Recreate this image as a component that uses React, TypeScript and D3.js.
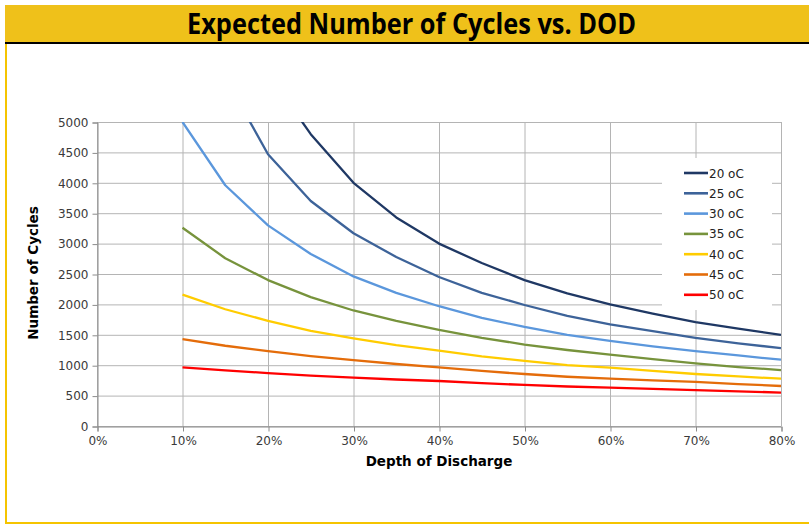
import React, { useEffect, useRef } from 'react';
import * as d3 from 'd3';

// depth of discharge (%) for every sample point
const dod = [10, 15, 20, 25, 30, 35, 40, 45, 50, 55, 60, 65, 70, 75, 80];

// cycles per temperature, null where the curve has no point
const cycles20 = [null, null, 5800, 4800, 4000, 3430, 3000, 2680, 2400, 2180, 2000, 1850, 1710, 1600, 1500];
const cycles25 = [null, 5730, 4470, 3700, 3170, 2780, 2450, 2190, 1990, 1810, 1670, 1560, 1450, 1360, 1280];
const cycles30 = [5000, 3960, 3300, 2830, 2460, 2190, 1970, 1780, 1630, 1500, 1400, 1310, 1230, 1160, 1090];
const cycles35 = [3260, 2760, 2400, 2120, 1900, 1730, 1580, 1450, 1340, 1250, 1175, 1100, 1030, 970, 920];
const cycles40 = [2160, 1920, 1730, 1565, 1440, 1330, 1240, 1145, 1070, 1000, 960, 905, 855, 815, 778];
const cycles45 = [1430, 1320, 1230, 1150, 1085, 1020, 965, 905, 855, 810, 780, 750, 725, 690, 658];
const cycles50 = [965, 915, 870, 830, 795, 765, 740, 705, 675, 650, 630, 610, 590, 570, 550];

const seriesNames = ['20 oC', '25 oC', '30 oC', '35 oC', '40 oC', '45 oC', '50 oC'];
const seriesColors = ['#1f3864', '#3d6399', '#5b97dc', '#77933c', '#ffcc00', '#e46c0a', '#ff0000'];
const seriesValues = [cycles20, cycles25, cycles30, cycles35, cycles40, cycles45, cycles50];

const xTicks = [0, 10, 20, 30, 40, 50, 60, 70, 80];
const yTicks = [0, 500, 1000, 1500, 2000, 2500, 3000, 3500, 4000, 4500, 5000];

const W = 809;
const H = 525;
const plot = { left: 97, right: 781, top: 122, bottom: 426 };
const axisFont = '"DejaVu Sans", Verdana, sans-serif';

export default function App() {
  const ref = useRef<SVGSVGElement | null>(null);

  useEffect(() => {
    const svg = d3.select(ref.current);
    svg.selectAll('*').remove();

    const x = d3.scaleLinear().domain([0, 80]).range([plot.left, plot.right]);
    const y = d3.scaleLinear().domain([0, 5000]).range([plot.bottom, plot.top]);

    // frame and title bar
    svg.append('rect').attr('x', 5).attr('y', 5).attr('width', W - 5).attr('height', 37).attr('fill', '#efc11a');
    svg.append('line').attr('x1', 5).attr('x2', W).attr('y1', 43).attr('y2', 43)
      .attr('stroke', '#000').attr('stroke-width', 2);
    svg.append('line').attr('x1', 6).attr('x2', 6).attr('y1', 44).attr('y2', 523.5)
      .attr('stroke', '#f5c400').attr('stroke-width', 2);
    svg.append('line').attr('x1', 5).attr('x2', W).attr('y1', 523).attr('y2', 523)
      .attr('stroke', '#f5c400').attr('stroke-width', 2);

    svg.append('text')
      .attr('x', 411.5)
      .attr('y', 34)
      .attr('text-anchor', 'middle')
      .attr('textLength', 449)
      .attr('lengthAdjust', 'spacingAndGlyphs')
      .style('font-family', '"Liberation Sans Narrow", "Open Sans", sans-serif')
      .style('font-weight', 'bold')
      .style('font-size', '28px')
      .style('fill', '#000')
      .text('Expected Number of Cycles vs. DOD');

    // grid
    const g = svg.append('g');
    g.selectAll('.hgrid').data(yTicks).enter().append('line')
      .attr('x1', plot.left).attr('x2', plot.right)
      .attr('y1', d => y(d) + 0.5).attr('y2', d => y(d) + 0.5)
      .attr('stroke', '#b4b4b4').attr('stroke-width', 1);
    g.selectAll('.vgrid').data(xTicks).enter().append('line')
      .attr('x1', d => x(d) + 0.5).attr('x2', d => x(d) + 0.5)
      .attr('y1', plot.top).attr('y2', plot.bottom)
      .attr('stroke', '#b4b4b4').attr('stroke-width', 1);

    // axes
    const xAxis = svg.append('g')
      .attr('transform', 'translate(0.5,' + (plot.bottom + 0.5) + ')')
      .call(d3.axisBottom(x).tickValues(xTicks).tickSize(5).tickPadding(5).tickFormat(d => d + '%'));
    const yAxis = svg.append('g')
      .attr('transform', 'translate(' + (plot.left + 0.5) + ',0.5)')
      .call(d3.axisLeft(y).tickValues(yTicks).tickSize(5).tickPadding(4).tickFormat(d3.format('d')));
    [xAxis, yAxis].forEach(a => {
      a.select('.domain').attr('stroke', '#8c8c8c');
      a.selectAll('.tick line').attr('stroke', '#8c8c8c');
      a.selectAll('text')
        .style('font-family', axisFont)
        .style('font-size', '12px')
        .style('fill', '#3a3a3a');
    });

    // clip lines to the plot area
    svg.append('clipPath').attr('id', 'plotClip')
      .append('rect')
      .attr('x', plot.left).attr('y', plot.top)
      .attr('width', plot.right - plot.left).attr('height', plot.bottom - plot.top);

    const line = d3.line<[number, number | null]>()
      .defined(d => d[1] !== null)
      .x(d => x(d[0]))
      .y(d => y(d[1] as number));

    const lines = svg.append('g').attr('clip-path', 'url(#plotClip)');
    seriesValues.forEach((vals, i) => {
      lines.append('path')
        .datum(dod.map((p, j) => [p, vals[j]] as [number, number | null]))
        .attr('d', line)
        .attr('fill', 'none')
        .attr('stroke', seriesColors[i])
        .attr('stroke-width', 2.3)
        .attr('stroke-linejoin', 'round');
    });

    // legend
    const legend = svg.append('g');
    legend.append('rect').attr('x', 662).attr('y', 158).attr('width', 110).attr('height', 152).attr('fill', '#fff');
    seriesNames.forEach((name, i) => {
      const ly = 173 + i * 20.3;
      legend.append('line')
        .attr('x1', 684).attr('x2', 708).attr('y1', ly).attr('y2', ly)
        .attr('stroke', seriesColors[i]).attr('stroke-width', 2.6);
      legend.append('text')
        .attr('x', 709).attr('y', ly + 4.5)
        .style('font-family', axisFont)
        .style('font-size', '12px')
        .style('fill', '#222')
        .text(name);
    });

    // axis titles
    svg.append('text')
      .attr('transform', 'translate(38,273) rotate(-90)')
      .attr('text-anchor', 'middle')
      .style('font-family', axisFont)
      .style('font-weight', 'bold')
      .style('font-size', '13.5px')
      .text('Number of Cycles');
    svg.append('text')
      .attr('x', 439)
      .attr('y', 466)
      .attr('text-anchor', 'middle')
      .style('font-family', axisFont)
      .style('font-weight', 'bold')
      .style('font-size', '13.5px')
      .text('Depth of Discharge');
  }, []);

  return (
    <svg ref={ref} width={W} height={H}
      style={{ position: 'absolute', left: 0, top: 0, background: '#fff' }} />
  );
}
